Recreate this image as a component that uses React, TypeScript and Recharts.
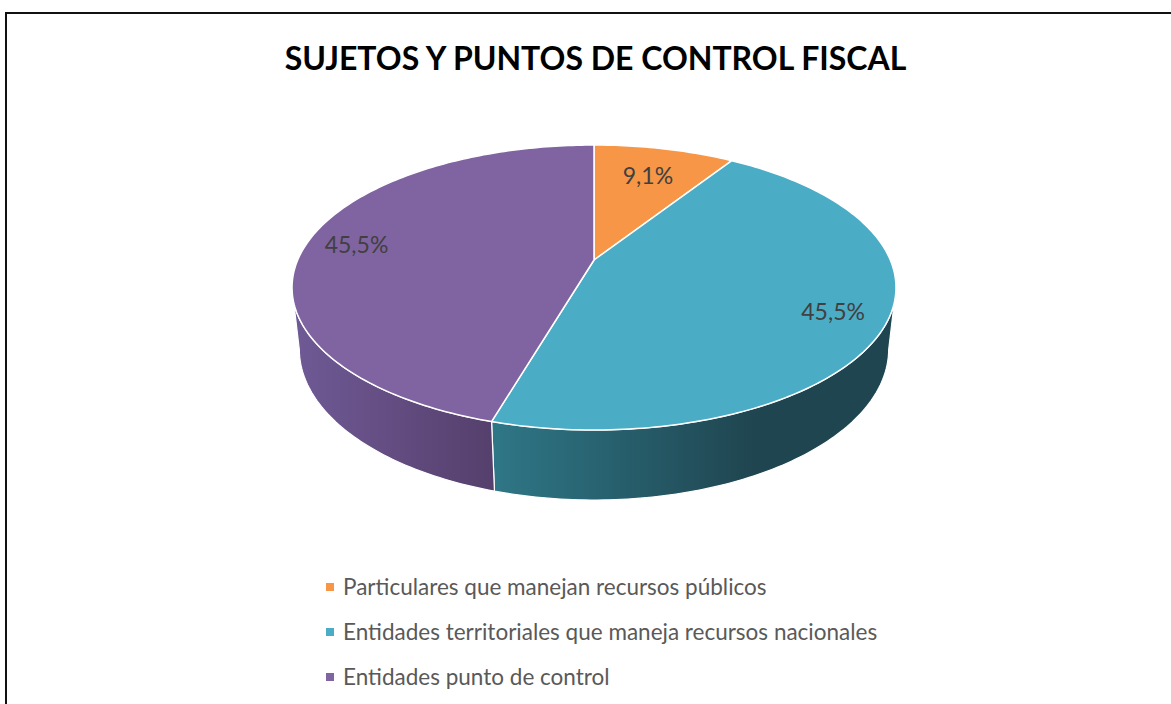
import { PieChart, Pie, Cell, Legend } from 'recharts';

const categories = [
  'Particulares que manejan recursos públicos',
  'Entidades territoriales que maneja recursos nacionales',
  'Entidades punto de control',
];
const values = [1, 5, 5];

const topColors = ['#F79646', '#4BACC6', '#8064A2'];
const sideLight = ['#C4722F', '#2F7787', '#705A96'];
const sideDark = ['#8A4E1E', '#1F4550', '#553F6C'];

const data = categories.map((name, i) => ({ name, value: values[i] }));

// perspective projection of the pie disc (tilted camera)
const F = 1360;
const D = 4.59;
const S = 0.463;
const C = 0.886;
const H = 0.237;
const WALL_FROM = (Math.acos(-C / D) * 180) / Math.PI;
const WALL_TO = 360 - WALL_FROM;

const proj = (cx: number, cy: number, deg: number, r: number, h: number) => {
  const t = (deg * Math.PI) / 180;
  const X = r * Math.sin(t);
  const Z = r * Math.cos(t);
  const depth = D + Z * C + h * S;
  const yv = Z * S - h * C;
  return [cx + (F * X) / depth, cy - (F * yv) / depth];
};

const arcPts = (cx: number, cy: number, a: number, b: number, h: number) => {
  const pts: number[][] = [];
  const n = Math.max(2, Math.ceil(Math.abs(b - a)));
  for (let i = 0; i <= n; i++) pts.push(proj(cx, cy, a + ((b - a) * i) / n, 1, h));
  return pts;
};

const toPath = (pts: number[][]) =>
  pts.map((p, i) => `${i ? 'L' : 'M'}${p[0].toFixed(2)},${p[1].toFixed(2)}`).join(' ') + ' Z';

const Slice3D = (props: any) => {
  const { cx, cy, startAngle, endAngle } = props;
  const a = 90 - startAngle;
  const b = 90 - endAngle;
  const i = Math.max(0, categories.indexOf(props.name ?? props.payload?.name));
  const top = [[cx, cy], ...arcPts(cx, cy, a, b, 0)];
  const wa = Math.max(a, WALL_FROM);
  const wb = Math.min(b, WALL_TO);
  let wall = null;
  if (wb > wa) {
    const upper = arcPts(cx, cy, wa, wb, 0);
    const lower = arcPts(cx, cy, wa, wb, H).reverse();
    const all = [...upper, ...lower];
    const xs = all.map((p) => p[0]);
    const x1 = Math.min(...xs);
    const x2 = Math.max(...xs);
    const id = `wall-${i}`;
    wall = (
      <g>
        <defs>
          <linearGradient id={id} gradientUnits="userSpaceOnUse" x1={x1} y1={0} x2={x2} y2={0}>
            <stop offset="0" stopColor={sideLight[i]} />
            <stop offset={i === 1 ? '0.65' : '1'} stopColor={sideDark[i]} />
            <stop offset="1" stopColor={sideDark[i]} />
          </linearGradient>
        </defs>
        <path d={toPath(all)} fill={`url(#${id})`} stroke="#fff" strokeWidth={1.2} strokeLinejoin="round" />
      </g>
    );
  }
  return (
    <g>
      {wall}
      <path d={toPath(top)} fill={topColors[i]} stroke="#fff" strokeWidth={1.5} strokeLinejoin="round" />
    </g>
  );
};

const renderLabel = (props: any) => {
  const { cx, cy, midAngle, percent } = props;
  const [x, y] = proj(cx, cy, 90 - midAngle, 0.71 + 0.26 * percent, 0);
  return (
    <text
      x={x}
      y={y}
      textAnchor="middle"
      dominantBaseline="central"
      fill="#404040"
      fontSize={23}
      fontFamily="Lato, sans-serif"
    >
      {`${(percent * 100).toFixed(1).replace('.', ',')}%`}
    </text>
  );
};

const renderLegend = (props: any) => {
  const payload = [...(props.payload || [])].sort(
    (p: any, q: any) => categories.indexOf(p.value) - categories.indexOf(q.value)
  );
  return (
    <div>
      {payload.map((entry: any) => {
        const i = categories.indexOf(entry.value);
        return (
          <div key={entry.value} style={{ display: 'flex', alignItems: 'center', height: 45 }}>
            <span
              style={{ width: 8, height: 8, background: topColors[i], marginRight: 9, flexShrink: 0 }}
            />
            <span style={{ fontSize: 22.5, color: '#595959', fontFamily: 'Lato, sans-serif', whiteSpace: 'nowrap' }}>
              {entry.value}
            </span>
          </div>
        );
      })}
    </div>
  );
};

export default function App() {
  return (
    <div style={{ position: 'absolute', left: 0, top: 0, width: 1171, height: 704, background: '#fff', overflow: 'hidden' }}>
      <div
        style={{
          position: 'absolute',
          left: 5,
          top: 12,
          width: 1180,
          height: 700,
          borderLeft: '2px solid #111',
          borderTop: '2px solid #111',
        }}
      />
      <div
        style={{
          position: 'absolute',
          left: 0,
          width: 1191,
          top: 36,
          textAlign: 'center',
          fontFamily: 'Lato, sans-serif',
          fontWeight: 700,
          fontSize: 32,
          color: '#000',
          lineHeight: '44px',
        }}
      >
        SUJETOS Y PUNTOS DE CONTROL FISCAL
      </div>
      <div style={{ position: 'absolute', left: 0, top: 0 }}>
        <PieChart width={1171} height={704} margin={{ top: 0, right: 0, bottom: 0, left: 0 }}>
          <Pie
            data={data}
            dataKey="value"
            nameKey="name"
            cx={594}
            cy={260}
            outerRadius={140}
            startAngle={90}
            endAngle={-270}
            isAnimationActive={false}
            shape={Slice3D}
            activeShape={Slice3D}
            label={renderLabel}
            labelLine={false}
          >
            {data.map((d, i) => (
              <Cell key={d.name} fill={topColors[i]} />
            ))}
          </Pie>
          <Legend
            layout="vertical"
            itemSorter={null as any}
            content={renderLegend}
            wrapperStyle={{ position: 'absolute', left: 326, top: 564, width: 700 }}
          />
        </PieChart>
      </div>
    </div>
  );
}
